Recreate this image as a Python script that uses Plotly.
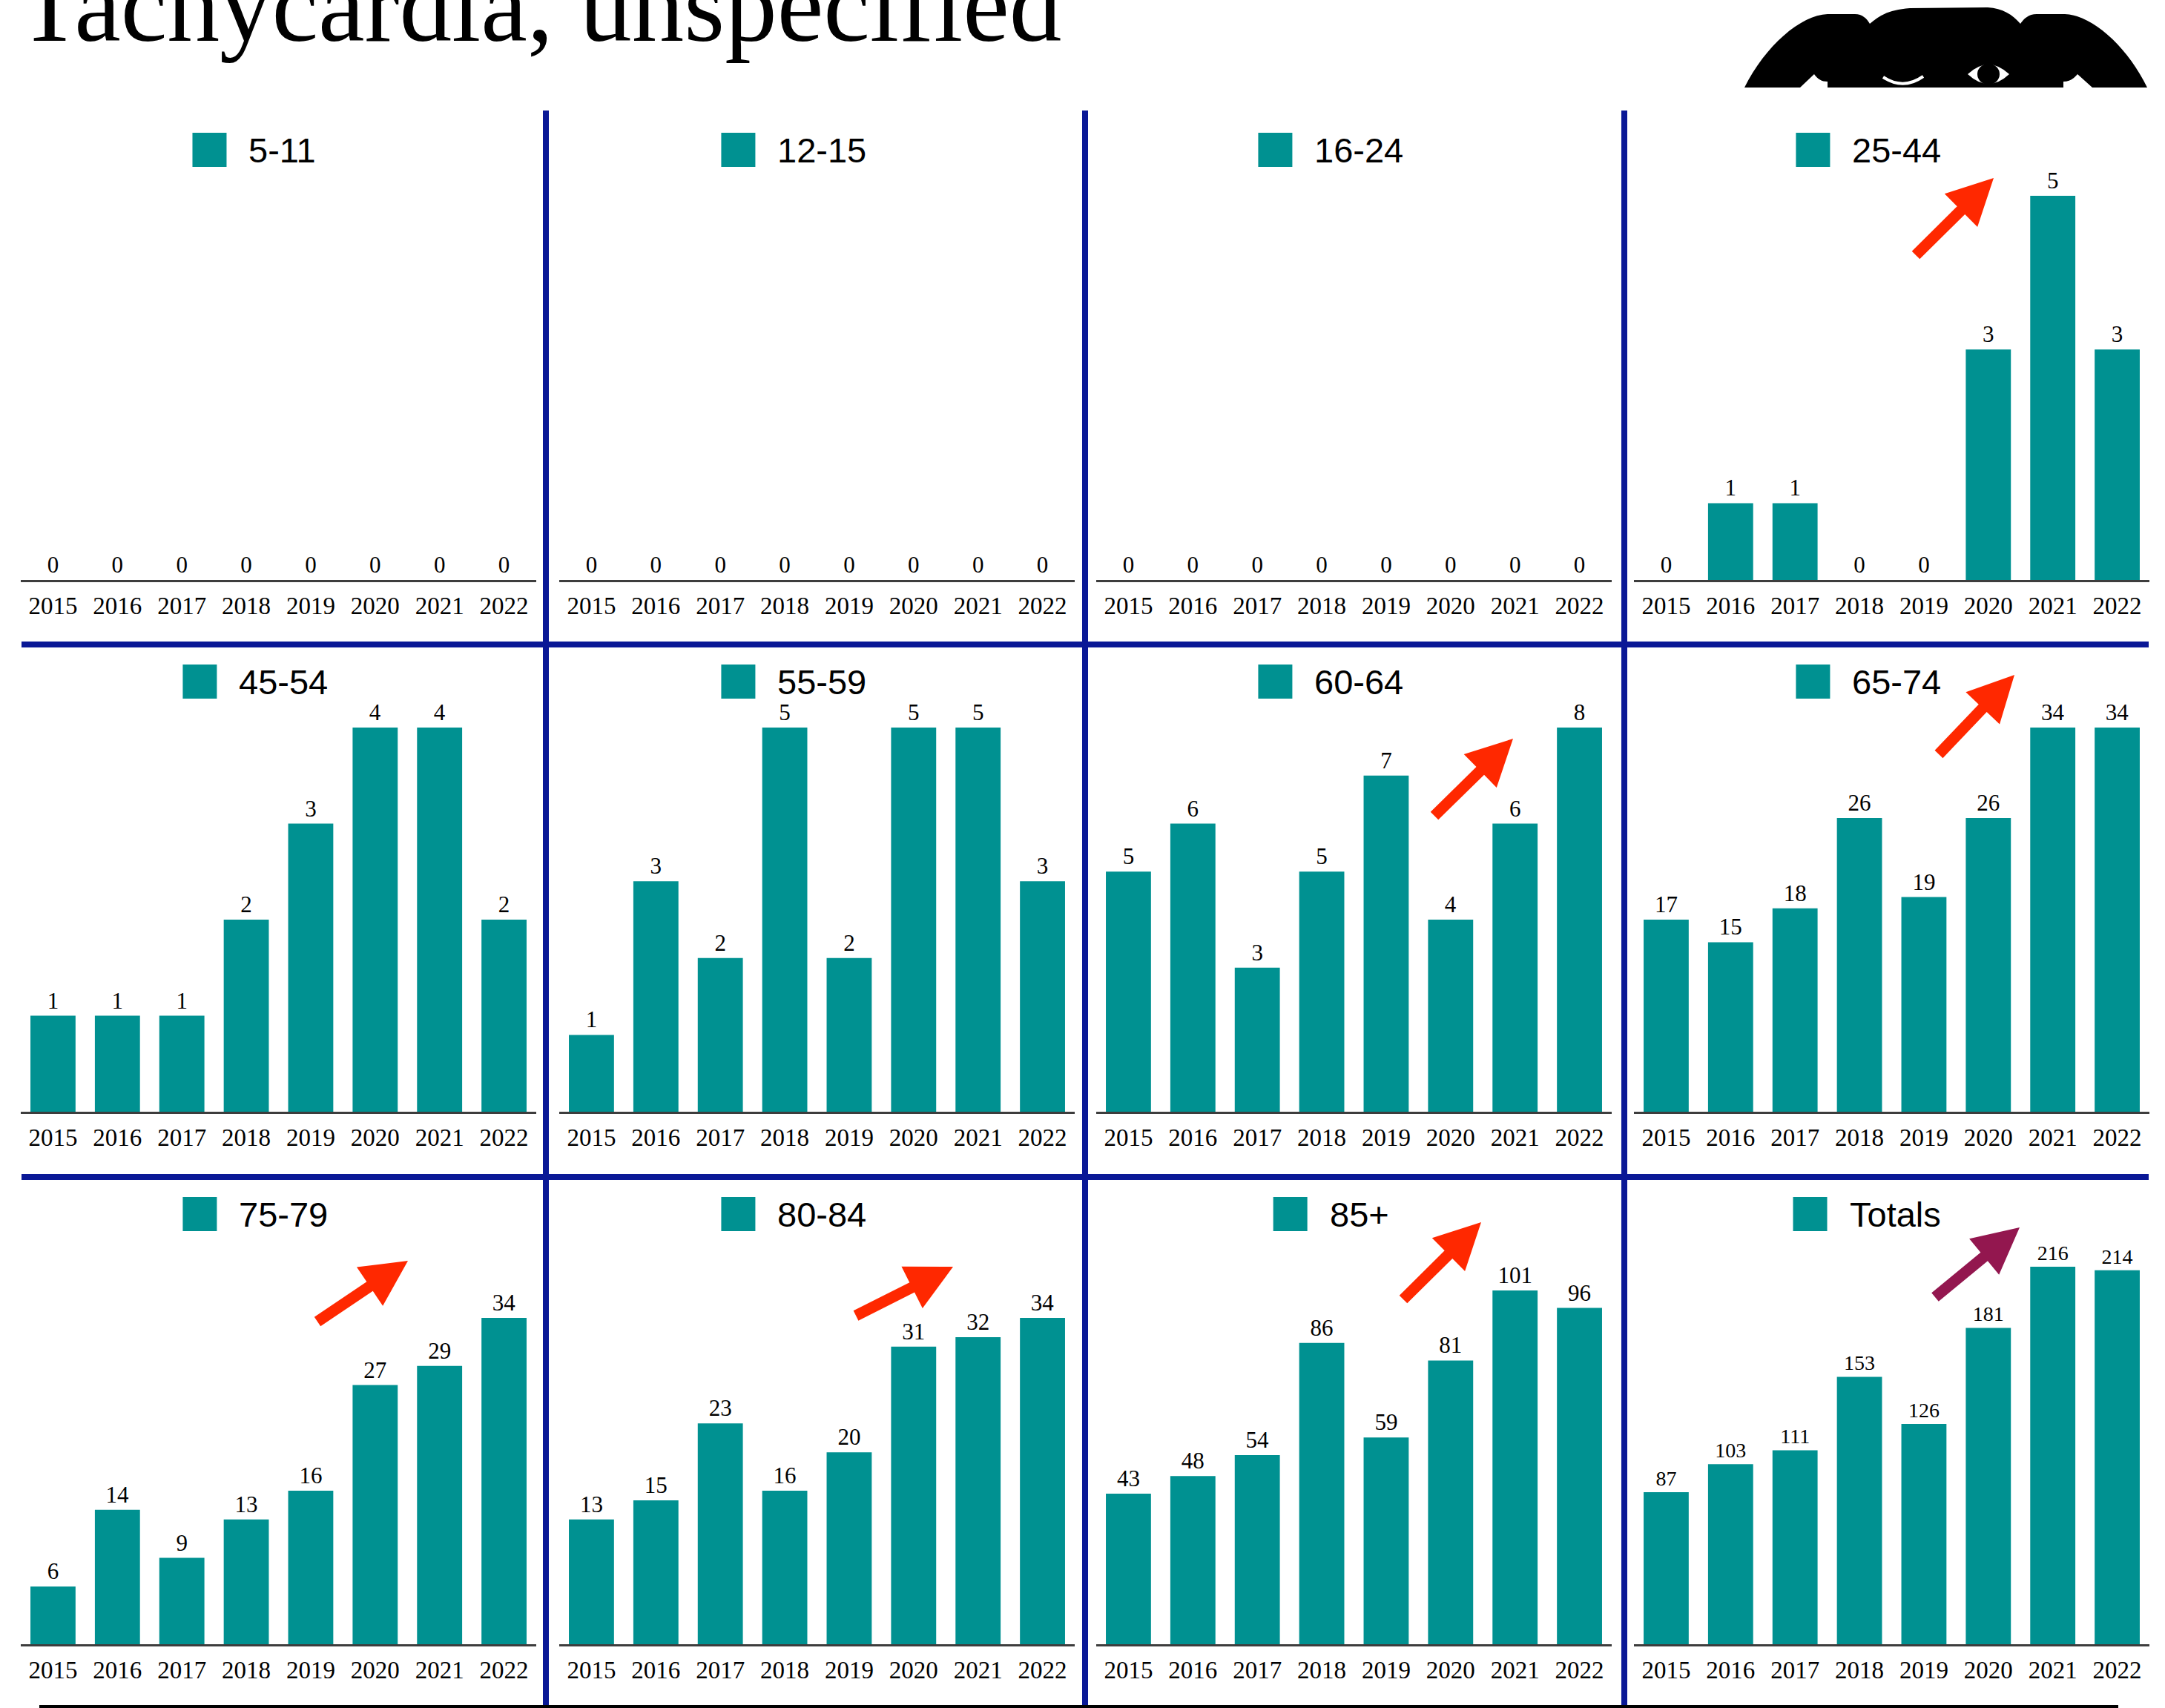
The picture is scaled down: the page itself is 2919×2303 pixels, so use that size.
import plotly.graph_objects as go

# ---------------- data ----------------
years = ["2015", "2016", "2017", "2018", "2019", "2020", "2021", "2022"]
groups = ["5-11", "12-15", "16-24", "25-44", "45-54", "55-59",
          "60-64", "65-74", "75-79", "80-84", "85+", "Totals"]

v_5_11 = [0, 0, 0, 0, 0, 0, 0, 0]
v_12_15 = [0, 0, 0, 0, 0, 0, 0, 0]
v_16_24 = [0, 0, 0, 0, 0, 0, 0, 0]
v_25_44 = [0, 1, 1, 0, 0, 3, 5, 3]
v_45_54 = [1, 1, 1, 2, 3, 4, 4, 2]
v_55_59 = [1, 3, 2, 5, 2, 5, 5, 3]
v_60_64 = [5, 6, 3, 5, 7, 4, 6, 8]
v_65_74 = [17, 15, 18, 26, 19, 26, 34, 34]
v_75_79 = [6, 14, 9, 13, 16, 27, 29, 34]
v_80_84 = [13, 15, 23, 16, 20, 31, 32, 34]
v_85_plus = [43, 48, 54, 86, 59, 81, 101, 96]
v_totals = [87, 103, 111, 153, 126, 181, 216, 214]

series = [v_5_11, v_12_15, v_16_24, v_25_44, v_45_54, v_55_59,
          v_60_64, v_65_74, v_75_79, v_80_84, v_85_plus, v_totals]

title_text = "Tachycardia, unspecified"

# ---------------- layout constants (pixels) ----------------
W, H = 2919, 2303
TEAL = "#009191"
NAVY = "#0A1896"
RED = "#FF2800"
PURPLE = "#93174F"

AX_LEFT = [28, 754, 1478, 2203]
AX_W = 695
AX_BASE = [782, 1499, 2217]
PLOT_H = 560
# pixel height reached by each panel's tallest bar
PEAK_PX = [518, 518, 518, 518, 518, 518, 518, 518, 440, 440, 477, 509]
VAL_FONT = [31] * 11 + [28]


def fx(x):
    return x / W


def fy(y):
    return 1 - y / H


def pt(x, y):
    return f"{fx(x):.6f},{fy(y):.6f}"


fig = go.Figure()
layout_axes = {}
annotations = []
shapes = []

for k, (name, vals) in enumerate(zip(groups, series)):
    r, c = divmod(k, 4)
    xs = "x" if k == 0 else f"x{k + 1}"
    ys = "y" if k == 0 else f"y{k + 1}"
    xl = "xaxis" if k == 0 else f"xaxis{k + 1}"
    yl = "yaxis" if k == 0 else f"yaxis{k + 1}"
    mx = max(vals)
    rng = mx * PLOT_H / PEAK_PX[k] if mx > 0 else 1.0

    fig.add_trace(go.Bar(
        x=years, y=vals, xaxis=xs, yaxis=ys,
        marker=dict(color=TEAL, line=dict(width=0)),
        text=[str(v) for v in vals], textposition="outside",
        textfont=dict(family="Liberation Serif", size=VAL_FONT[k], color="black"),
        cliponaxis=False, constraintext="none", hoverinfo="skip",
        showlegend=False,
    ))

    x0 = AX_LEFT[c]
    base = AX_BASE[r]
    layout_axes[xl] = dict(
        domain=[fx(x0), fx(x0 + AX_W)], anchor=ys, type="category",
        showline=True, linecolor="#3d3d3d", linewidth=3, ticks="",
        showgrid=False, zeroline=False, fixedrange=True,
        tickfont=dict(family="Liberation Serif", size=33, color="black"),
        ticklabelstandoff=3,
    )
    layout_axes[yl] = dict(
        domain=[fy(base), fy(base - PLOT_H)], anchor=xs, range=[0, rng],
        visible=False, fixedrange=True,
    )

    # legend (square + label) centred over the panel
    cw = {"-": 0.333, "+": 0.584, "T": 0.611, "o": 0.556, "t": 0.278,
          "a": 0.556, "l": 0.222, "s": 0.5}
    lf = 47
    tw = sum(cw.get(ch, 0.556) for ch in name) * lf
    center = x0 + AX_W / 2 - 32
    sq = 46
    gap = 28
    left = center - (sq + gap + tw) / 2
    cy = base - 580
    shapes.append(dict(type="rect", xref="paper", yref="paper",
                       x0=fx(left), x1=fx(left + sq), y0=fy(cy + sq / 2), y1=fy(cy - sq / 2),
                       fillcolor=TEAL, line=dict(width=0)))
    annotations.append(dict(text=name, xref="paper", yref="paper",
                            x=fx(left + sq + gap), y=fy(cy), xanchor="left", yanchor="middle",
                            showarrow=False,
                            font=dict(family="Liberation Sans", size=lf, color="black")))

# ---------------- dividers ----------------
for xv in [736, 1463, 2190]:
    shapes.append(dict(type="line", xref="paper", yref="paper",
                       x0=fx(xv), x1=fx(xv), y0=fy(149), y1=fy(H + 5),
                       line=dict(color=NAVY, width=8)))
for yv in [869, 1587]:
    shapes.append(dict(type="line", xref="paper", yref="paper",
                       x0=fx(29), x1=fx(2897), y0=fy(yv), y1=fy(yv),
                       line=dict(color=NAVY, width=8)))
# partial black frame at the very bottom
shapes.append(dict(type="line", xref="paper", yref="paper",
                   x0=fx(53), x1=fx(2856), y0=fy(2301), y1=fy(2301),
                   line=dict(color="black", width=4)))


# ---------------- arrows ----------------
def arrow_path(tail, tip, w=15, hl=62, hw=63):
    tx, ty = tail
    px, py = tip
    dx, dy = px - tx, py - ty
    L = (dx * dx + dy * dy) ** 0.5
    ux, uy = dx / L, dy / L
    nx, ny = -uy, ux
    bx, by = px - ux * hl, py - uy * hl
    pts = [
        (tx + nx * w / 2, ty + ny * w / 2),
        (bx + nx * w / 2, by + ny * w / 2),
        (bx + nx * hw / 2, by + ny * hw / 2),
        (px, py),
        (bx - nx * hw / 2, by - ny * hw / 2),
        (bx - nx * w / 2, by - ny * w / 2),
        (tx - nx * w / 2, ty - ny * w / 2),
    ]
    return "M " + " L ".join(pt(a, b) for a, b in pts) + " Z"


arrows = [
    ((2583, 344), (2688, 240), RED),
    ((1934, 1100), (2040, 996), RED),
    ((2614, 1017), (2716, 910), RED),
    ((428, 1782), (550, 1700), RED),
    ((1154, 1774), (1285, 1708), RED),
    ((1892, 1752), (1997, 1648), RED),
    ((2609, 1749), (2723, 1655), PURPLE),
]
for tail, tip, col in arrows:
    shapes.append(dict(type="path", xref="paper", yref="paper",
                       path=arrow_path(tail, tip), fillcolor=col, line=dict(width=0)))

# ---------------- logo (top right) ----------------
logo = ("M " + pt(2352, 118) +
        " C " + pt(2380, 62) + " " + pt(2428, 20) + " " + pt(2464, 19) +
        " L " + pt(2501, 19) +
        " C " + pt(2511, 19) + " " + pt(2517, 25) + " " + pt(2521, 32) +
        " C " + pt(2535, 20) + " " + pt(2548, 13) + " " + pt(2575, 11) +
        " L " + pt(2680, 10) +
        " C " + pt(2700, 11) + " " + pt(2714, 20) + " " + pt(2724, 32) +
        " C " + pt(2729, 25) + " " + pt(2735, 19) + " " + pt(2746, 19) +
        " L " + pt(2784, 19) +
        " C " + pt(2820, 20) + " " + pt(2868, 62) + " " + pt(2895, 118) +
        " L " + pt(2821, 118) +
        " L " + pt(2801, 100) +
        " C " + pt(2795, 107) + " " + pt(2790, 110) + " " + pt(2782, 110) +
        " L " + pt(2782, 118) +
        " L " + pt(2464, 118) +
        " L " + pt(2464, 110) +
        " C " + pt(2456, 110) + " " + pt(2451, 107) + " " + pt(2446, 100) +
        " L " + pt(2427, 118) + " Z")
shapes.append(dict(type="path", xref="paper", yref="paper", path=logo,
                   fillcolor="black", line=dict(width=0)))
shapes.append(dict(type="path", xref="paper", yref="paper",
                   path="M " + pt(2539, 104) + " Q " + pt(2566, 122) + " " + pt(2593, 103),
                   line=dict(color="white", width=4)))
shapes.append(dict(type="path", xref="paper", yref="paper",
                   path="M " + pt(2653, 100) + " Q " + pt(2681, 74) + " " + pt(2709, 100) +
                        " Q " + pt(2681, 126) + " " + pt(2653, 100) + " Z",
                   fillcolor="white", line=dict(width=0)))
shapes.append(dict(type="circle", xref="paper", yref="paper",
                   x0=fx(2666), x1=fx(2696), y0=fy(114), y1=fy(86),
                   fillcolor="black", line=dict(width=0)))

# ---------------- title ----------------
annotations.append(dict(text=title_text, xref="paper", yref="paper",
                        x=fx(22), y=fy(87), xanchor="left", yanchor="bottom",
                        showarrow=False,
                        font=dict(family="Liberation Serif", size=141, color="black")))

fig.update_layout(
    width=W, height=H, margin=dict(l=0, r=0, t=0, b=0, pad=0),
    paper_bgcolor="white", plot_bgcolor="rgba(0,0,0,0)",
    showlegend=False, bargap=0.3,
    shapes=shapes, annotations=annotations,
    **layout_axes,
)

fig.write_html("out.html",
               config={"displayModeBar": False},
               post_script="document.body.style.margin='0';document.body.style.overflow='hidden';")
